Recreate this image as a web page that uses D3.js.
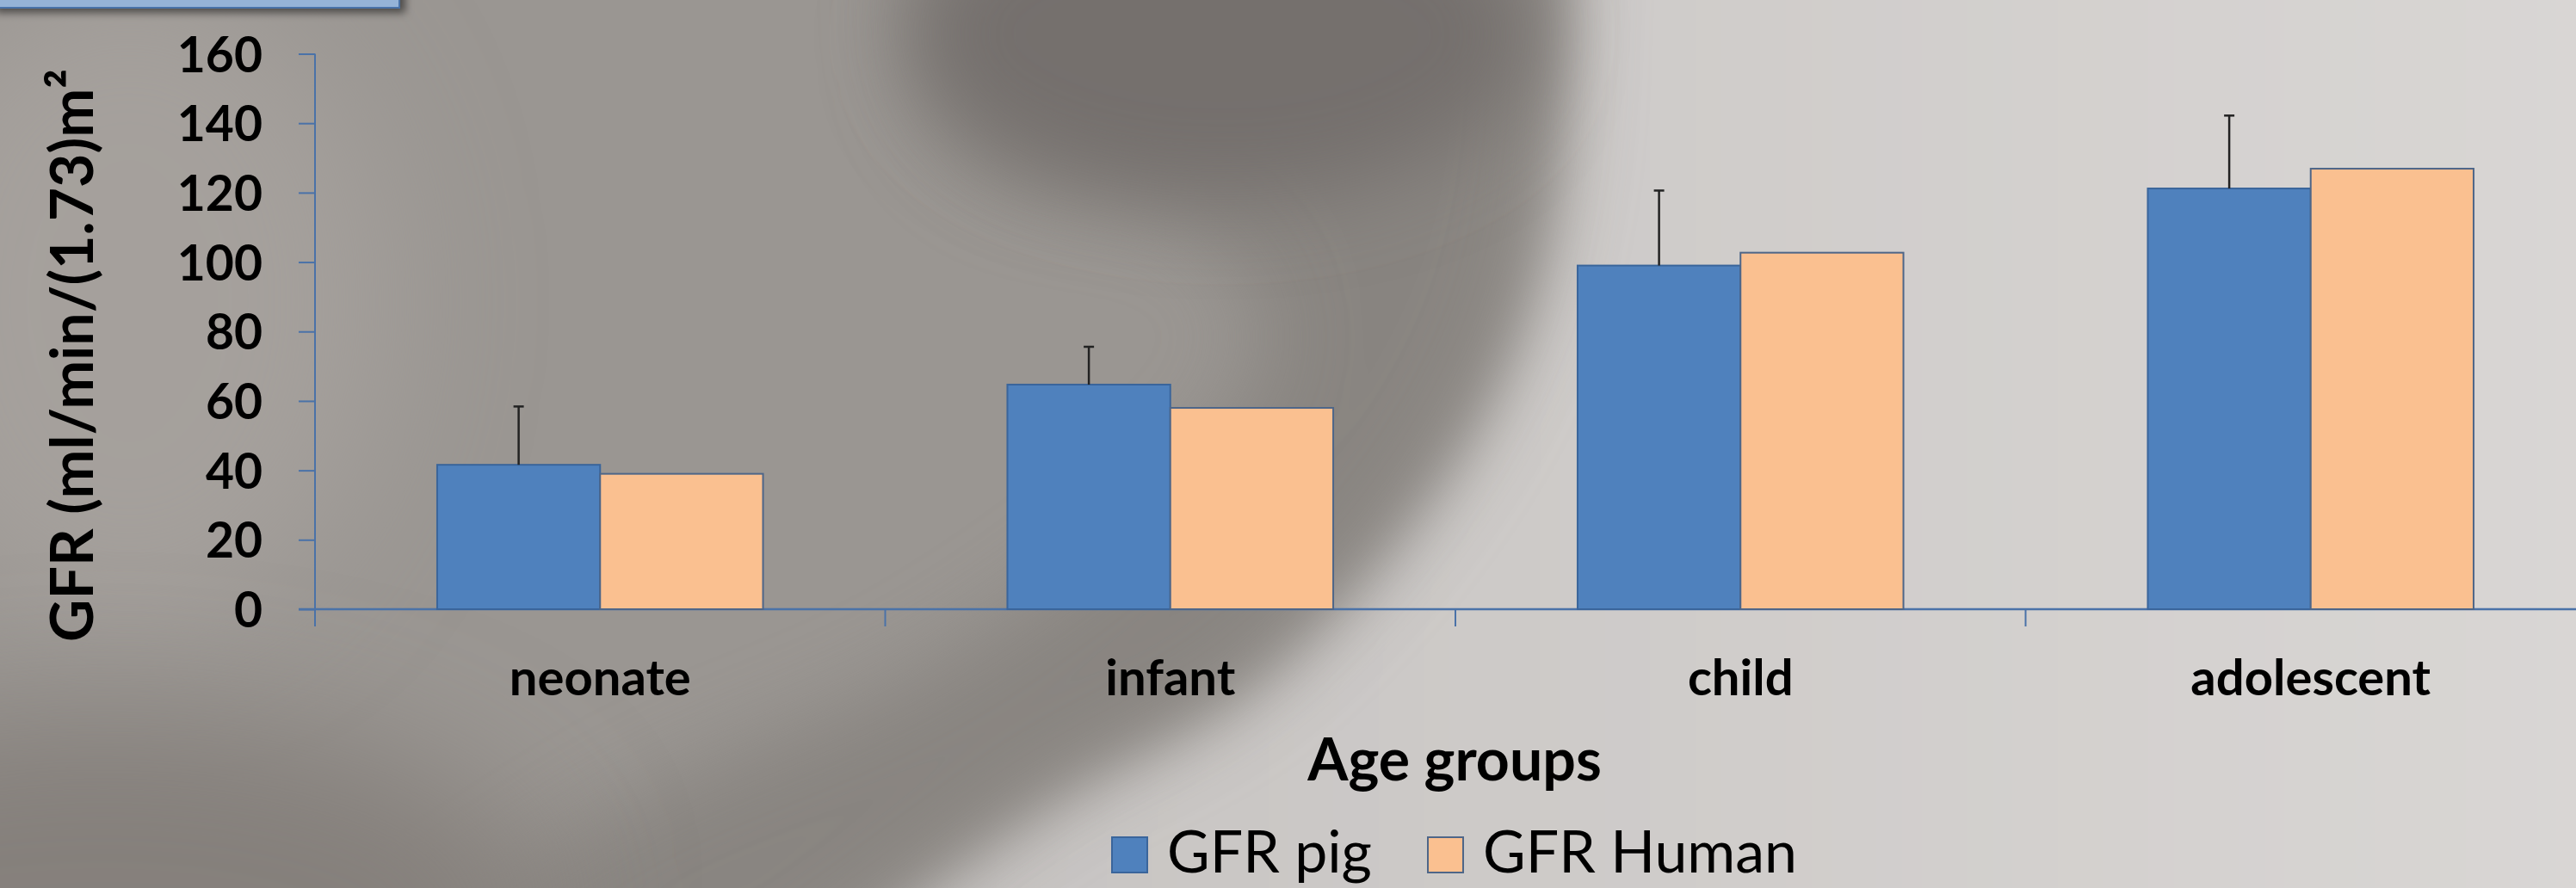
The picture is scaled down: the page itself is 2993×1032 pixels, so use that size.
<!DOCTYPE html>
<html>
<head>
<meta charset="utf-8">
<script src="https://cdn.jsdelivr.net/npm/d3@7"></script>
<style>
  html, body { margin: 0; padding: 0; overflow: hidden; background: #9f9b97; }
  svg { display: block; }
  text { font-family: Lato, "Open Sans", sans-serif; fill: #000; }
</style>
</head>
<body>
<svg id="chart" width="2993" height="1032"></svg>
<script>
// ---- data ----
const categories = ["neonate", "infant", "child", "adolescent"];
const seriesNames = ["GFR pig", "GFR Human"];
const pigValues = [41.6, 64.7, 99.0, 121.2];
const humanValues = [39.0, 58.0, 102.7, 126.9];
const pigErrors = [16.8, 10.9, 21.6, 21.0];
const yTicks = [0, 20, 40, 60, 80, 100, 120, 140, 160];
const yTitle = "GFR (ml/min/(1.73)m²";
const xTitle = "Age groups";

const W = 2993, H = 1032;
const svg = d3.select("#chart");
const defs = svg.append("defs");

// ---- background (blurred photo-like backdrop) ----
function blur(id, sd) {
  defs.append("filter").attr("id", id)
    .attr("x", "-50%").attr("y", "-50%").attr("width", "200%").attr("height", "200%")
    .append("feGaussianBlur").attr("stdDeviation", sd);
}
blur("b30", 30); blur("b50", 50); blur("b80", 80);

const lg = defs.append("linearGradient").attr("id", "lightGrad")
  .attr("gradientUnits", "userSpaceOnUse").attr("x1", 1000).attr("y1", 0).attr("x2", 3000).attr("y2", 0);
lg.append("stop").attr("offset", 0).attr("stop-color", "#c6c3c1");
lg.append("stop").attr("offset", 1).attr("stop-color", "#d9d6d4");

const bg = svg.append("g");
bg.append("rect").attr("x", 0).attr("y", 0).attr("width", W).attr("height", H).attr("fill", "#9a9692");
bg.append("ellipse").attr("cx", 150).attr("cy", 350).attr("rx", 300).attr("ry", 380)
  .attr("fill", "#a5a09c").attr("filter", "url(#b80)");
const line = d3.line().curve(d3.curveCatmullRom);
const lightPts = [[1813, -150], [1800, 200], [1750, 400], [1640, 590], [1450, 790], [1220, 922], [1040, 1050], [900, 1200]];
bg.append("path")
  .attr("d", line(lightPts) + "L3200,1200L3200,-150Z")
  .attr("fill", "url(#lightGrad)").attr("filter", "url(#b30)");
const outer = [[1813, -150], [1800, 200], [1750, 400], [1640, 590], [1450, 790], [1220, 922], [1040, 1050], [900, 1150]];
const inner = [[400, 1150], [725, 935], [1069, 780], [1330, 590], [1470, 400], [1400, 270], [1150, 200], [1069, 100], [1069, -150]];
bg.append("path")
  .attr("d", line(outer) + "L" + line(inner).slice(1) + "Z")
  .attr("fill", "#87837f").attr("filter", "url(#b50)").attr("opacity", 0.9);
bg.append("ellipse").attr("cx", 1420).attr("cy", 40).attr("rx", 360).attr("ry", 190)
  .attr("fill", "#74706d").attr("filter", "url(#b50)");
bg.append("ellipse").attr("cx", 120).attr("cy", 1060).attr("rx", 520).attr("ry", 230)
  .attr("fill", "#85807c").attr("filter", "url(#b80)");

// top-left blue box (partially visible)
defs.append("filter").attr("id", "shadow")
  .attr("x", "-20%").attr("y", "-50%").attr("width", "140%").attr("height", "300%")
  .append("feDropShadow").attr("dx", 6).attr("dy", 5).attr("stdDeviation", 5)
  .attr("flood-color", "#000").attr("flood-opacity", 0.5);
svg.append("rect").attr("x", -10).attr("y", -40).attr("width", 474).attr("height", 49)
  .attr("fill", "#95b3d7").attr("stroke", "#4a72a8").attr("stroke-width", 2)
  .attr("filter", "url(#shadow)");

// ---- scales ----
const x0 = d3.scaleBand().domain(categories).range([366, 3016]).padding(0);
const x1 = d3.scaleBand().domain(seriesNames).range([0, x0.bandwidth()]).paddingInner(0).paddingOuter(0.75);
const y = d3.scaleLinear().domain([0, 160]).range([708, 62.5]);
const colors = { "GFR pig": "#4f81bd", "GFR Human": "#fac090" };
const strokes = { "GFR pig": "#3a659b", "GFR Human": "#4e6688" };
const axisColor = "#4a72a8";

// ---- y axis ----
const yAxis = svg.append("g").attr("transform", "translate(366,0)")
  .call(d3.axisLeft(y).tickValues(yTicks).tickSize(19).tickSizeOuter(0).tickPadding(42));
yAxis.select(".domain").remove();
yAxis.selectAll(".tick line").attr("stroke", axisColor).attr("stroke-width", 2);
yAxis.selectAll(".tick text")
  .attr("font-family", "Lato, sans-serif").attr("font-weight", 700).attr("font-size", 57)
  .attr("fill", "#000").attr("dy", "0.36em");
svg.append("line").attr("x1", 366).attr("x2", 366).attr("y1", y(160)).attr("y2", 728)
  .attr("stroke", axisColor).attr("stroke-width", 2);

// ---- x axis ----
svg.append("line").attr("x1", 347).attr("x2", W + 10).attr("y1", y(0)).attr("y2", y(0))
  .attr("stroke", axisColor).attr("stroke-width", 2.5);
svg.append("g").selectAll("line").data(categories.slice(1)).join("line")
  .attr("x1", d => x0(d)).attr("x2", d => x0(d))
  .attr("y1", y(0)).attr("y2", 728)
  .attr("stroke", axisColor).attr("stroke-width", 2);
const xAxis = svg.append("g").attr("transform", `translate(0,${y(0)})`)
  .call(d3.axisBottom(x0).tickSize(0).tickPadding(59));
xAxis.select(".domain").remove();
xAxis.selectAll(".tick text")
  .attr("font-family", "Lato, sans-serif").attr("font-weight", 700).attr("font-size", 58)
  .attr("fill", "#000").attr("dy", "0.71em");

// ---- bars ----
const groups = svg.append("g").selectAll("g").data(categories).join("g")
  .attr("transform", d => `translate(${x0(d)},0)`);
groups.each(function (cat, i) {
  const g = d3.select(this);
  const vals = [{ s: "GFR pig", v: pigValues[i] }, { s: "GFR Human", v: humanValues[i] }];
  g.selectAll("rect").data(vals).join("rect")
    .attr("x", d => x1(d.s)).attr("width", x1.bandwidth())
    .attr("y", d => y(d.v)).attr("height", d => y(0) - y(d.v))
    .attr("fill", d => colors[d.s]).attr("stroke", d => strokes[d.s]).attr("stroke-width", 2);
  const cx = x1("GFR pig") + x1.bandwidth() / 2;
  const top = y(pigValues[i] + pigErrors[i]);
  g.append("line").attr("x1", cx).attr("x2", cx).attr("y1", y(pigValues[i])).attr("y2", top)
    .attr("stroke", "#222").attr("stroke-width", 2.5);
  g.append("line").attr("x1", cx - 6).attr("x2", cx + 6).attr("y1", top).attr("y2", top)
    .attr("stroke", "#222").attr("stroke-width", 2.5);
});

// ---- axis titles ----
svg.append("text")
  .attr("transform", "translate(108,413) rotate(-90)")
  .attr("text-anchor", "middle")
  .attr("font-weight", 700).attr("font-size", 68)
  .text(yTitle);
svg.append("text")
  .attr("x", 1690).attr("y", 907).attr("text-anchor", "middle")
  .attr("font-weight", 700).attr("font-size", 68)
  .text(xTitle);

// ---- legend ----
const legendX = [1292, 1659];
const legend = svg.append("g").selectAll("g").data(seriesNames).join("g")
  .attr("transform", (d, i) => `translate(${legendX[i]},973)`);
legend.append("rect").attr("width", 41).attr("height", 41)
  .attr("fill", d => colors[d]).attr("stroke", d => strokes[d]).attr("stroke-width", 2);
legend.append("text").attr("x", 64).attr("y", 41)
  .attr("font-weight", 400).attr("font-size", 68)
  .text(d => d);
</script>
</body>
</html>
